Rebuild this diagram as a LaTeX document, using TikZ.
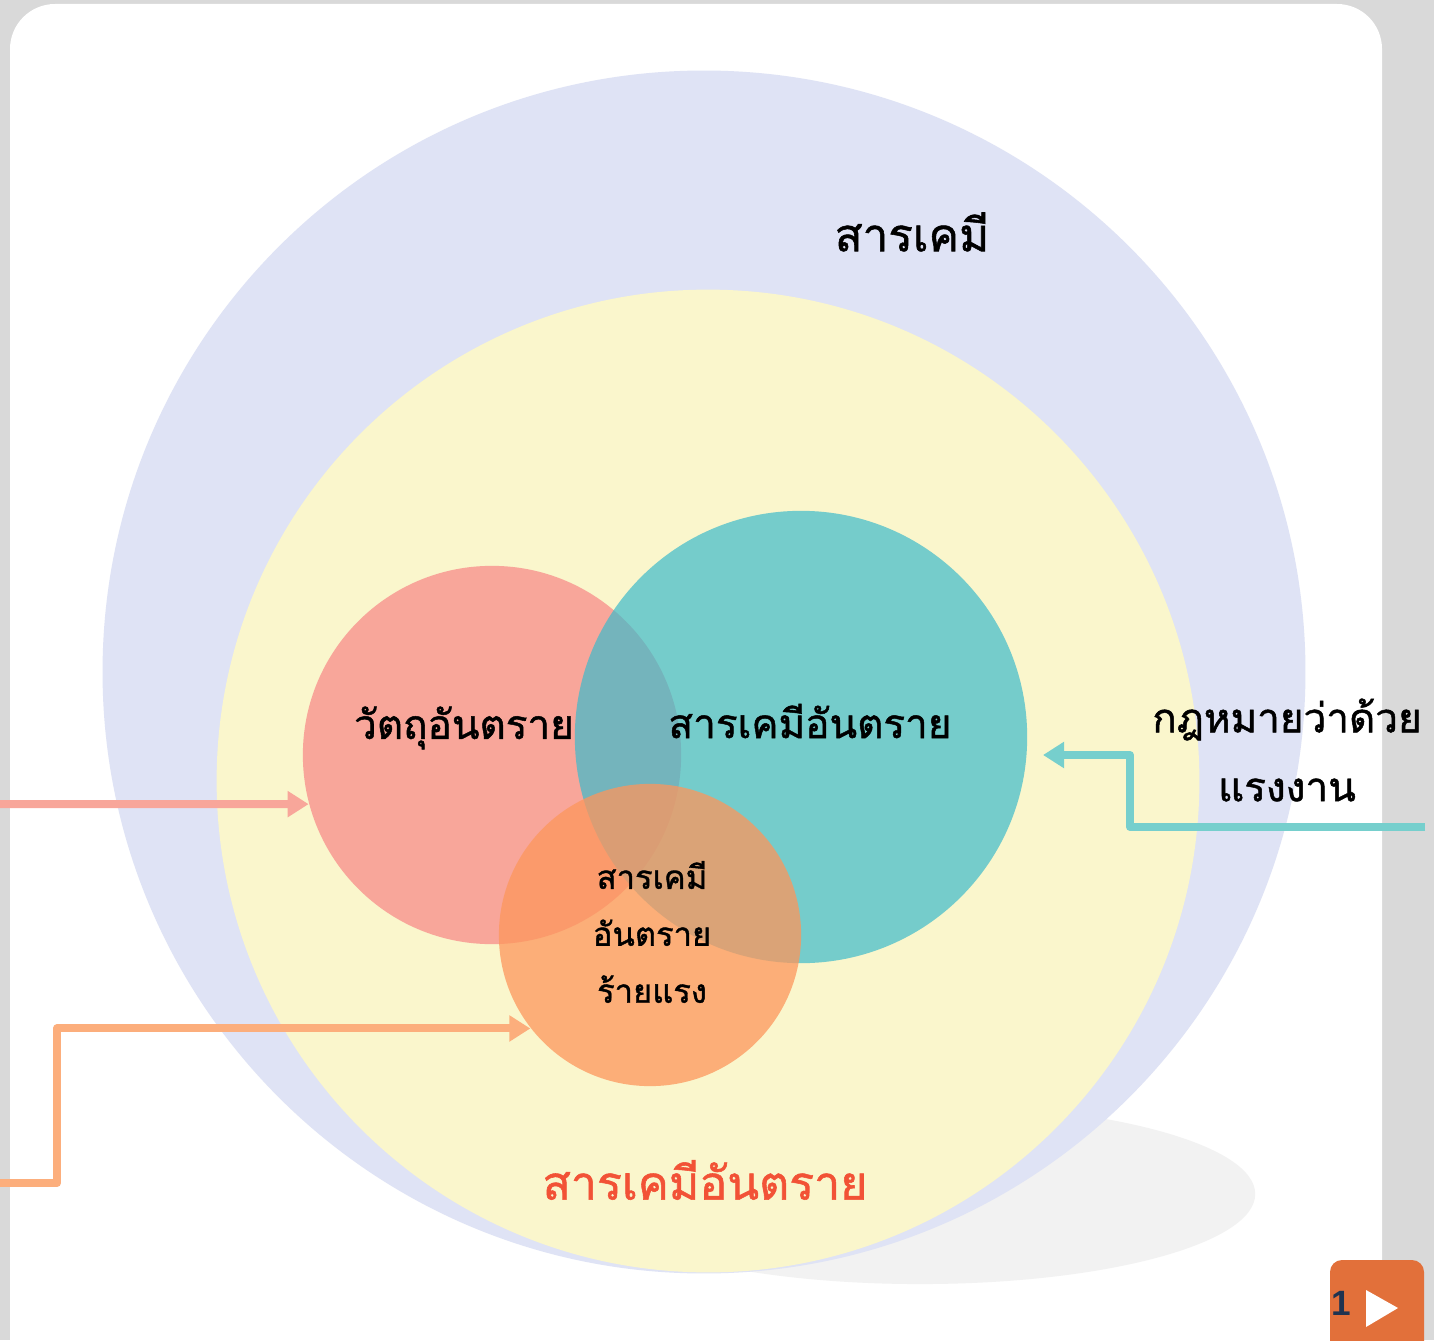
\documentclass[tikz,border=0pt]{standalone}
\usepackage{fontspec}
\newfontfamily\thaifont[Script=Thai,FakeBold=1.2]{Loma}
\newfontfamily\btnfont{Liberation Sans}
\usetikzlibrary{arrows.meta}
\definecolor{pagegrey}{HTML}{D9D9D9}
\definecolor{shadowgrey}{HTML}{F2F2F2}
\definecolor{chemblue}{HTML}{DFE3F5}
\definecolor{hazyellow}{HTML}{FAF6CC}
\definecolor{objpink}{HTML}{F8A69A}
\definecolor{chemteal}{HTML}{3DBBCB}
\definecolor{lawteal}{HTML}{76CFCD}
\definecolor{severeorange}{HTML}{FD965C}
\definecolor{sevline}{HTML}{FCAE7C}
\definecolor{hazred}{HTML}{F25236}
\definecolor{btnorange}{HTML}{E2703A}
\definecolor{btnnavy}{HTML}{1F3350}
\tikzset{
  ring/.style={circle,inner sep=0pt,minimum size=#1*0.02cm},
  bigtext/.style={inner sep=0pt,align=center,font=\thaifont\fontsize{11.5}{19.6}\selectfont},
  smalltext/.style={inner sep=0pt,align=center,font=\thaifont\fontsize{9.3}{16.2}\selectfont},
  link/.style={line width=0.08cm,line join=round,-{Triangle[length=0.21cm,width=0.25cm]}}
}

\begin{document}
\begin{tikzpicture}[x=0.01cm,y=-0.01cm]
   \clip (0,0) rectangle (1434,1340);
   \fill[pagegrey] (0,0) rectangle (1434,1340);
   \fill[white,rounded corners=0.45cm] (10,4) rectangle (1382,1420);
   \fill[shadowgrey] (920,1194) ellipse [x radius=3.35cm,y radius=0.9cm];
   \node[ring=601,fill=chemblue] (chem) at (704,672) {};
   \node[ring=491,fill=hazyellow] (hazard) at (708,781) {};
   \node[ring=189,fill=objpink] (hazobj) at (492,755) {};
   \node[ring=226,fill=chemteal,fill opacity=0.7] (hazchem) at (801,737) {};
   \node[ring=151,fill=severeorange,fill opacity=0.75] (severe) at (650,935) {};
   \node[bigtext,font=\thaifont\fontsize{13}{16}\selectfont] (chemlabel) at (912,232) {สารเคมี};
   \node[bigtext] (objlabel) at (464,728) {วัตถุอันตราย};
   \node[bigtext] (hazchemlabel) at (810,721) {สารเคมีอันตราย};
   \node[smalltext] (severelabel) at (652,932) {สารเคมี\\อันตราย\\ร้ายแรง};
   \node[bigtext,hazred,font=\thaifont\fontsize{13.2}{17}\selectfont] (hazardlabel) at (705,1180) {สารเคมีอันตราย};
   \node[bigtext] (lawlabel) at (1287,750) {กฎหมายว่าด้วย\\แรงงาน};
   \coordinate (objin) at (0,804);
   \coordinate (sevin) at (0,1183);
   \coordinate (lawin) at (1425,827);
   \coordinate (lawtip) at (1043,755);
   \draw[link,objpink] (objin) -- (hazobj.195);
   \draw[link,sevline] (sevin) -- ++(57,0) |- (severe.218);
   \draw[link,lawteal] (lawin) -- ++(-295,0) |- (lawtip);
   \fill[btnorange,rounded corners=0.12cm] (1330,1260) rectangle (1424,1390);
   \node[inner sep=0pt,btnnavy,font=\btnfont\bfseries\fontsize{10}{12}\selectfont] (pagenum) at (1341,1303) {1};
   \fill[white] (1366,1290) -- (1398,1308) -- (1366,1327) -- cycle;
\end{tikzpicture}
\end{document}
